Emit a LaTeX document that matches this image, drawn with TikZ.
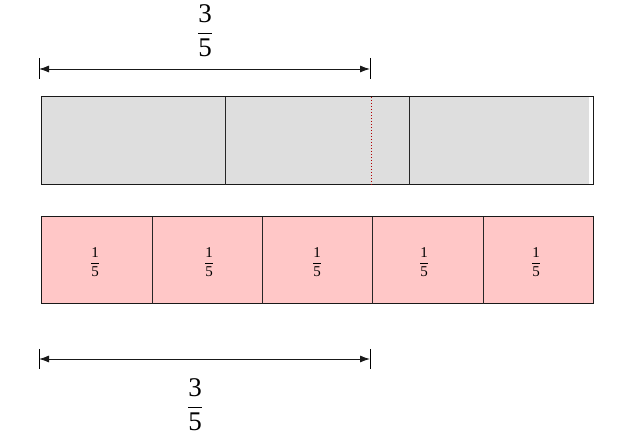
\documentclass[tikz,border=0pt]{standalone}
\usepackage{amsmath}
\usepackage{fontspec}
\setmainfont{Liberation Serif}
\usetikzlibrary{arrows.meta}
\newcommand{\myfr}[2]{$\dfrac{\text{#1}}{\text{#2}}$}
\begin{document}
\begin{tikzpicture}[x=1pt,y=-1pt,
  barline/.style={draw=black!90,line width=1pt},
  divline/.style={draw=black!85,line width=1pt},
  dimline/.style={draw=black!90,line width=0.9pt,{Latex[length=10pt,width=7pt]}-{Latex[length=10pt,width=7pt]}},
  tickline/.style={draw=black,line width=0.9pt},
  bigfrac/.style={inner sep=0pt,font=\fontsize{27}{30}\selectfont},
  smallfrac/.style={inner sep=0pt,font=\fontsize{15}{17}\selectfont},
  cutline/.style={draw=red!70!black,line width=0.8pt,dash pattern=on 1.5pt off 1.5pt}]
\useasboundingbox (0,0) rectangle (625,443);
% top bar
\fill[fill=black!13] (41,97) rectangle (589,185);
\draw[barline] (41,97) rectangle (593,185);
\coordinate (g1t) at (225,97); \coordinate (g1b) at (225,185);
\coordinate (g2t) at (409,97); \coordinate (g2b) at (409,185);
\draw[divline] (g1t) -- (g1b);
\draw[divline] (g2t) -- (g2b);
\coordinate (ct) at (371,97); \coordinate (cb) at (371,185);
\draw[cutline] (ct) -- (cb);
% pink bar
\fill[fill=red!22] (41,217) rectangle (593,304);
\draw[barline] (41,217) rectangle (593,304);
\foreach \xx/\nm in {152/a,262/b,372/c,483/d}{
  \coordinate (p\nm t) at (\xx,217); \coordinate (p\nm b) at (\xx,304);
  \draw[divline] (p\nm t) -- (p\nm b);
}
\foreach \xx/\nm in {95/1,209/2,317/3,424/4,536/5}{
  \node[smallfrac] (s\nm) at (\xx,262) {\myfr{1}{5}};
}
% top dimension
\coordinate (tl) at (39,69); \coordinate (tr) at (370,69);
\coordinate (tlu) at (39,58); \coordinate (tld) at (39,79);
\coordinate (tru) at (370,58); \coordinate (trd) at (370,79);
\draw[tickline] (tlu) -- (tld);
\draw[tickline] (tru) -- (trd);
\draw[dimline] (tl) -- (tr);
\node[bigfrac] (topfr) at (205,31) {\myfr{3}{5}};
% bottom dimension
\coordinate (bl) at (39,359); \coordinate (br) at (370,359);
\coordinate (blu) at (39,349); \coordinate (bld) at (39,369);
\coordinate (bru) at (370,349); \coordinate (brd) at (370,369);
\draw[tickline] (blu) -- (bld);
\draw[tickline] (bru) -- (brd);
\draw[dimline] (bl) -- (br);
\node[bigfrac] (botfr) at (195,405) {\myfr{3}{5}};
\end{tikzpicture}
\end{document}
